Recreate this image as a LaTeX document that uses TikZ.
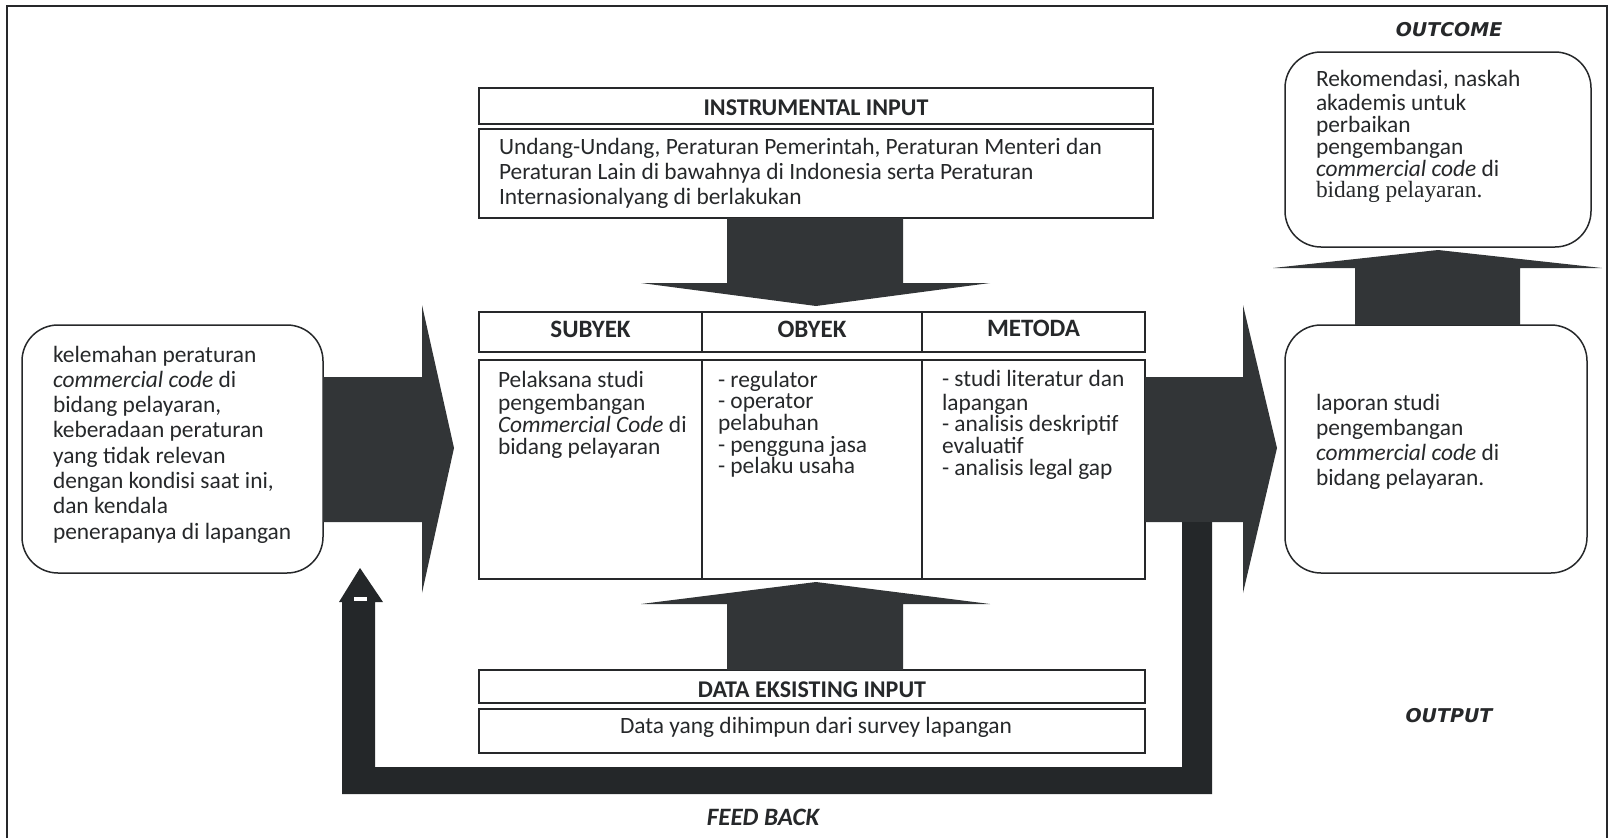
\documentclass[tikz,border=0pt]{standalone}
\usepackage{fontspec}
\setmainfont{Carlito}
\newfontfamily\vfont{DejaVu Sans}
\newfontfamily\tfont{Liberation Serif}
\definecolor{ink}{RGB}{38,40,42}
\definecolor{blk}{RGB}{50,53,55}
\definecolor{fbk}{RGB}{36,39,41}
\newcommand{\bodysz}{\fontsize{23.4}{25}\selectfont}
\newcommand{\leftsz}{\fontsize{23.4}{25.3}\selectfont}
\newcommand{\tabsz}{\fontsize{23.4}{21.7}\selectfont}
\newcommand{\ocsz}{\fontsize{23.4}{21.8}\selectfont}
\begin{document}
\begin{tikzpicture}[x=1pt,y=-1pt,
  cell/.style={draw=ink,line width=1.8pt,inner sep=0pt,outer sep=0pt,anchor=north west},
  rbox/.style={draw=ink,line width=1.5pt,rounded corners=36pt,inner sep=0pt,outer sep=0pt,anchor=north west},
  txt/.style={inner sep=0pt,outer sep=0pt,anchor=north west,align=left,text=ink},
  hdr/.style={inner sep=0pt,anchor=base,text=ink,font=\bfseries\fontsize{24}{28}\selectfont},
  colhdr/.style={inner sep=0pt,anchor=base,text=ink,font=\bfseries\fontsize{25}{28}\selectfont},
  tag/.style={inner sep=0pt,anchor=base,text=ink,font=\vfont\bfseries\itshape\fontsize{19}{22}\selectfont},
  blockarrow/.style={fill=blk},
  fbarrow/.style={fill=fbk}]
\useasboundingbox (0,0) rectangle (1609,838);
% outer frame
\draw[ink,line width=1.8pt] (7,838) -- (7,6) -- (1607,6) -- (1607,838);

% instrumental input
\node[cell,minimum width=674pt,minimum height=36pt] (ihead) at (479,88) {};
\node[hdr] (iheadt) at (816,115) {INSTRUMENTAL INPUT};
\node[cell,minimum width=674pt,minimum height=89pt] (ibody) at (479,129) {};
\node[txt,font=\bodysz] (ibodyt) at (499,136.5) {\strut Undang-Undang, Peraturan Pemerintah, Peraturan Menteri dan\\Peraturan Lain di bawahnya di Indonesia serta Peraturan\\Internasionalyang di berlakukan};

% table header
\node[cell,minimum width=223pt,minimum height=40pt] (hsub) at (479,312) {};
\node[cell,minimum width=220pt,minimum height=40pt] (hobj) at (702,312) {};
\node[cell,minimum width=223pt,minimum height=40pt] (hmet) at (922,312) {};
\node[colhdr] (hsubt) at (590.5,337) {SUBYEK};
\node[colhdr] (hobjt) at (812,337) {OBYEK};
\node[colhdr] (hmett) at (1033.5,336) {METODA};

% table body
\node[cell,minimum width=223pt,minimum height=219pt] (bsub) at (479,360) {};
\node[cell,minimum width=220pt,minimum height=219pt] (bobj) at (702,360) {};
\node[cell,minimum width=223pt,minimum height=219pt] (bmet) at (922,360) {};
\node[txt,font=\tabsz] (bsubt) at (498,370.8) {\strut Pelaksana studi\\pengembangan\\\textit{Commercial Code} di\\bidang pelayaran};
\node[txt,font=\tabsz] (bobjt) at (718,370.8) {\strut - regulator\\- operator\\pelabuhan\\- pengguna jasa\\- pelaku usaha};
\node[txt,font=\tabsz] (bmett) at (942,370) {\strut - studi literatur dan\\lapangan\\- analisis deskriptif\\evaluatif\\- analisis legal gap};

% data eksisting input
\node[cell,minimum width=666pt,minimum height=33pt] (dhead) at (479,670) {};
\node[hdr] (dheadt) at (812,697) {DATA EKSISTING INPUT};
\node[cell,minimum width=666pt,minimum height=44pt] (dbody) at (479,709) {};
\node[inner sep=0pt,anchor=base,text=ink,font=\bodysz] (dbodyt) at (816,733) {Data yang dihimpun dari survey lapangan};

% left rounded box
\node[rbox,minimum width=301pt,minimum height=248pt] (lbox) at (22,325) {};
\node[txt,font=\leftsz] (lboxt) at (53,344.3) {\strut kelemahan peraturan\\\textit{commercial code} di\\bidang pelayaran,\\keberadaan peraturan\\yang tidak relevan\\dengan kondisi saat ini,\\dan kendala\\penerapanya di lapangan};

% output box
\node[rbox,minimum width=302pt,minimum height=248pt] (obox) at (1285,325) {};
\node[txt,font=\bodysz] (oboxt) at (1316,392.5) {\strut laporan studi\\pengembangan\\\textit{commercial code} di\\bidang pelayaran.};

% outcome box
\node[rbox,minimum width=306pt,minimum height=195pt] (cbox) at (1285,52) {};
\node[txt,font=\ocsz] (cboxt) at (1316,70.7) {\strut Rekomendasi, naskah\\akademis untuk\\perbaikan\\pengembangan\\\textit{commercial code} di\\{\tfont bidang pelayaran.}};

% labels
\node[tag] (tagoc) at (1449,36.5) {OUTCOME};
\node[tag] (tagop) at (1449,722) {OUTPUT};
\node[inner sep=0pt,anchor=base,text=ink,font=\bfseries\itshape\fontsize{25}{28}\selectfont] (tagfb) at (763,825) {FEED BACK};

% block arrows
\fill[blockarrow] (lbox.east|-0,377) -- (422,377) -- (422,305) -- (454,448) -- (422,593) -- (422,522) -- (lbox.east|-0,522) -- cycle;
\fill[blockarrow] (bmet.east|-0,377) -- (1243,377) -- (1243,305) -- (1277,448) -- (1243,593) -- (1243,522) -- (bmet.east|-0,522) -- cycle;
\fill[blockarrow] (727,0|-ibody.south) -- (727,283) -- (641,283) -- (816,306) -- (990,283) -- (903,283) -- (903,0|-ibody.south) -- cycle;
\fill[blockarrow] (727,0|-dhead.north) -- (727,604) -- (641,604) -- (816,582) -- (990,604) -- (903,604) -- (903,0|-dhead.north) -- cycle;
\fill[blockarrow] (1355,0|-obox.north) -- (1355,268) -- (1273,268) -- (1438,250) -- (1602,268) -- (1520,268) -- (1520,0|-obox.north) -- cycle;

% feedback arrow
\fill[fbarrow] (1182,522) -- (1212,522) -- (1212,794) -- (342,794) -- (342,602) -- (339,602) -- (360,568) -- (383,602) -- (375,602) -- (375,767) -- (1182,767) -- cycle;
\fill[white] (354,597) rectangle (367,601);
\end{tikzpicture}
\end{document}
